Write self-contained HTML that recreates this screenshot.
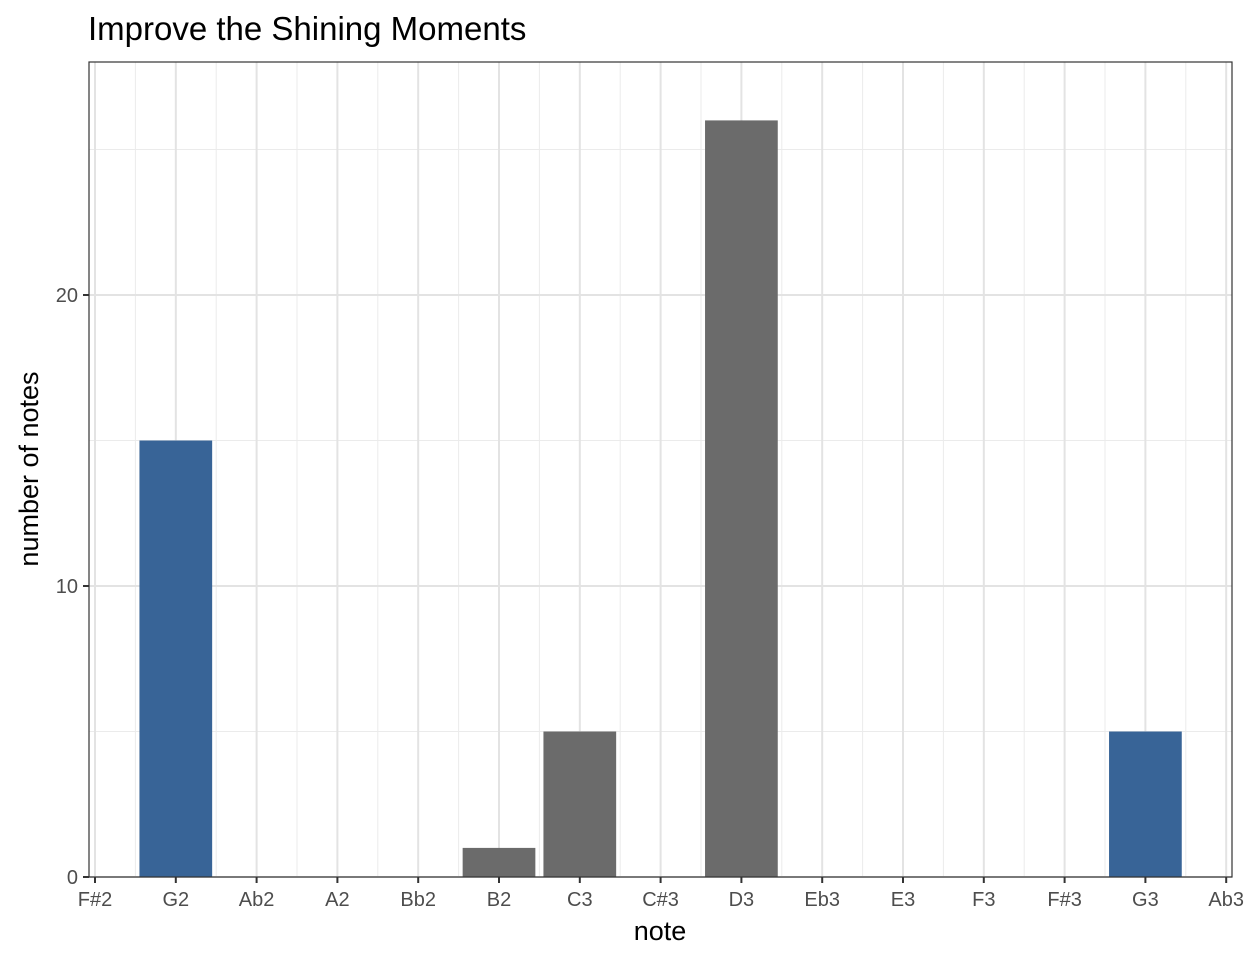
<!DOCTYPE html>
<html><head><meta charset="utf-8"><style>
body{margin:0;background:#fff;font-family:"Liberation Sans",Arial,sans-serif}
</style></head><body>
<svg id="chart" width="1248" height="960" xmlns="http://www.w3.org/2000/svg" font-family="Liberation Sans, Arial, sans-serif">
<rect width="1248" height="960" fill="#fff"/>
<text x="88" y="40" font-size="33" fill="#000">Improve the Shining Moments</text>
<g id="grid"></g>
<g id="bars"></g>
<rect x="89" y="62" width="1143" height="815" fill="none" stroke="#333" stroke-width="1.2"/>
<g id="axes"></g>
<text x="660" y="940" font-size="27" text-anchor="middle" fill="#000">note</text>
<text transform="translate(38,469) rotate(-90)" font-size="27" text-anchor="middle" fill="#000">number of notes</text>
</svg>
<script>
const categories=["F#2","G2","Ab2","A2","Bb2","B2","C3","C#3","D3","Eb3","E3","F3","F#3","G3","Ab3"];
const barNotes=["G2","B2","C3","D3","G3"];
const barValues=[15,1,5,26,5];
const barHighlight=[true,false,false,false,true];
const yTicks=[0,10,20];
const yMinor=[5,15,25];
const NS="http://www.w3.org/2000/svg";
const x0=95,step=80.8,yBase=877,pxPerUnit=29.1,pLeft=89,pRight=1232,pTop=62;
const xs=i=>x0+i*step;
const ys=v=>yBase-v*pxPerUnit;
function mk(tag,attrs,parent){const e=document.createElementNS(NS,tag);for(const k in attrs)e.setAttribute(k,attrs[k]);parent.appendChild(e);return e;}
const grid=document.getElementById('grid'),bars=document.getElementById('bars'),axes=document.getElementById('axes');
yMinor.forEach(v=>{const l=mk('line',{x1:pLeft,x2:pRight,y1:ys(v),y2:ys(v),stroke:'#ebebeb','stroke-width':1},grid);

});
categories.forEach((c,i)=>{if(i<categories.length-1){const l=mk('line',{x1:xs(i+0.5),x2:xs(i+0.5),y1:pTop,y2:yBase,stroke:'#ebebeb','stroke-width':1},grid);

}});
yTicks.forEach(v=>{const l=mk('line',{x1:pLeft,x2:pRight,y1:ys(v),y2:ys(v),stroke:'#e3e3e3','stroke-width':2},grid);


mk('line',{x1:pLeft-6,x2:pLeft,y1:ys(v),y2:ys(v),stroke:'#333','stroke-width':2},axes);
const t=mk('text',{x:pLeft-11,y:ys(v)+7,'font-size':20,'text-anchor':'end',fill:'#4d4d4d'},axes);t.textContent=v;

});
categories.forEach((c,i)=>{const l=mk('line',{x1:xs(i),x2:xs(i),y1:pTop,y2:yBase,stroke:'#e3e3e3','stroke-width':2},grid);


mk('line',{x1:xs(i),x2:xs(i),y1:yBase,y2:yBase+6,stroke:'#333','stroke-width':2},axes);
const t=mk('text',{x:xs(i),y:yBase+29,'font-size':20,'text-anchor':'middle',fill:'#4d4d4d'},axes);t.textContent=c;

});
const bw=step*0.9;
barNotes.forEach((n,j)=>{const i=categories.indexOf(n);const v=barValues[j];
const r=mk('rect',{x:xs(i)-bw/2,y:ys(v),width:bw,height:yBase-ys(v),fill:barHighlight[j]?'#386497':'#6b6b6b'},bars);

});
</script>
</body></html>
